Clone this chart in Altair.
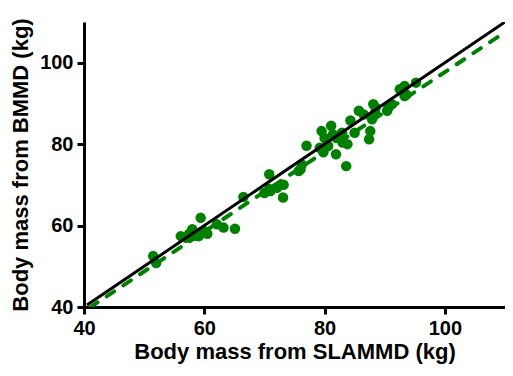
import altair as alt
import pandas as pd

slammd = [51.5, 52.0, 56.1, 57.0, 58.0, 59.4, 59.1, 59.9, 58.5, 60.5, 57.5,
          62.1, 63.2, 65.1, 66.5, 70.0, 70.8, 70.8, 71.0, 72.1, 73.2, 73.1,
          75.7, 76.0, 76.2, 77.0, 79.2, 79.5, 80.6, 81.1, 81.4, 81.9, 83.0,
          83.8, 82.9, 85.0, 83.6, 85.7, 86.5, 88.1, 87.9, 87.6, 87.4, 90.4,
          91.2, 93.3, 88.4, 88.5, 90.6, 92.5, 93.3, 93.6, 95.2, 80.0, 82.0,
          79.8, 84.3]
bmmd = [52.5, 50.8, 57.4, 57.0, 59.1, 61.9, 57.4, 58.7, 57.5, 58.0, 58.0,
        60.3, 59.5, 59.2, 67.0, 68.0, 69.0, 72.6, 68.5, 69.3, 70.0, 66.9,
        73.4, 73.8, 75.0, 79.6, 79.1, 83.2, 79.6, 84.5, 82.4, 77.5, 80.4,
        80.0, 82.8, 82.8, 74.6, 88.2, 87.3, 89.8, 86.1, 83.2, 81.2, 88.2,
        89.8, 91.8, 87.7, 89.0, 89.0, 93.5, 94.3, 92.2, 95.1, 81.5, 81.5,
        78.0, 85.8]

identity_x = [40.5, 110]
identity_y = [40.5, 110]
fit_x = [41.0, 110]
fit_y = [39.9, 107.5]

ticks = [40, 60, 80, 100]

pts = pd.DataFrame({"x": slammd, "y": bmmd})
ident = pd.DataFrame({"x": identity_x, "y": identity_y})
fit = pd.DataFrame({"x": fit_x, "y": fit_y})

xs = alt.Scale(domain=[40, 110], nice=False, zero=False)
ys = alt.Scale(domain=[40, 110], nice=False, zero=False)

axis_common = dict(
    values=ticks, grid=False, domainColor="black", domainWidth=3,
    tickColor="black", tickWidth=3, tickSize=7,
    labelFont="Liberation Sans", labelFontSize=20, labelFontWeight="bold",
    labelColor="black", titleFont="Liberation Sans", titleFontSize=22,
    titleFontWeight="bold", titleColor="black", labelFlush=False,
)

xax = alt.Axis(title="Body mass from SLAMMD (kg)", labelPadding=4,
               titlePadding=3, **axis_common)
yax = alt.Axis(title="Body mass from BMMD (kg)", labelPadding=4,
               titlePadding=7, **axis_common)

points = alt.Chart(pts).mark_circle(size=110, color="green", opacity=1).encode(
    x=alt.X("x:Q", scale=xs, axis=xax),
    y=alt.Y("y:Q", scale=ys, axis=yax),
)

fit_line = alt.Chart(fit).mark_line(
    color="green", strokeWidth=4, strokeDash=[9, 11], strokeCap="round", clip=True
).encode(x=alt.X("x:Q", scale=xs), y=alt.Y("y:Q", scale=ys))

ident_line = alt.Chart(ident).mark_line(
    color="black", strokeWidth=3, clip=True
).encode(x=alt.X("x:Q", scale=xs), y=alt.Y("y:Q", scale=ys))

chart = alt.layer(points, fit_line, ident_line).properties(
    width=421, height=285,
    autosize=alt.AutoSizeParams(type="none"),
    padding={"left": 76, "top": 14, "right": 0, "bottom": 61},
).configure_view(stroke=None)

chart.save("out.html", embed_options={"renderer": "svg", "actions": False})
